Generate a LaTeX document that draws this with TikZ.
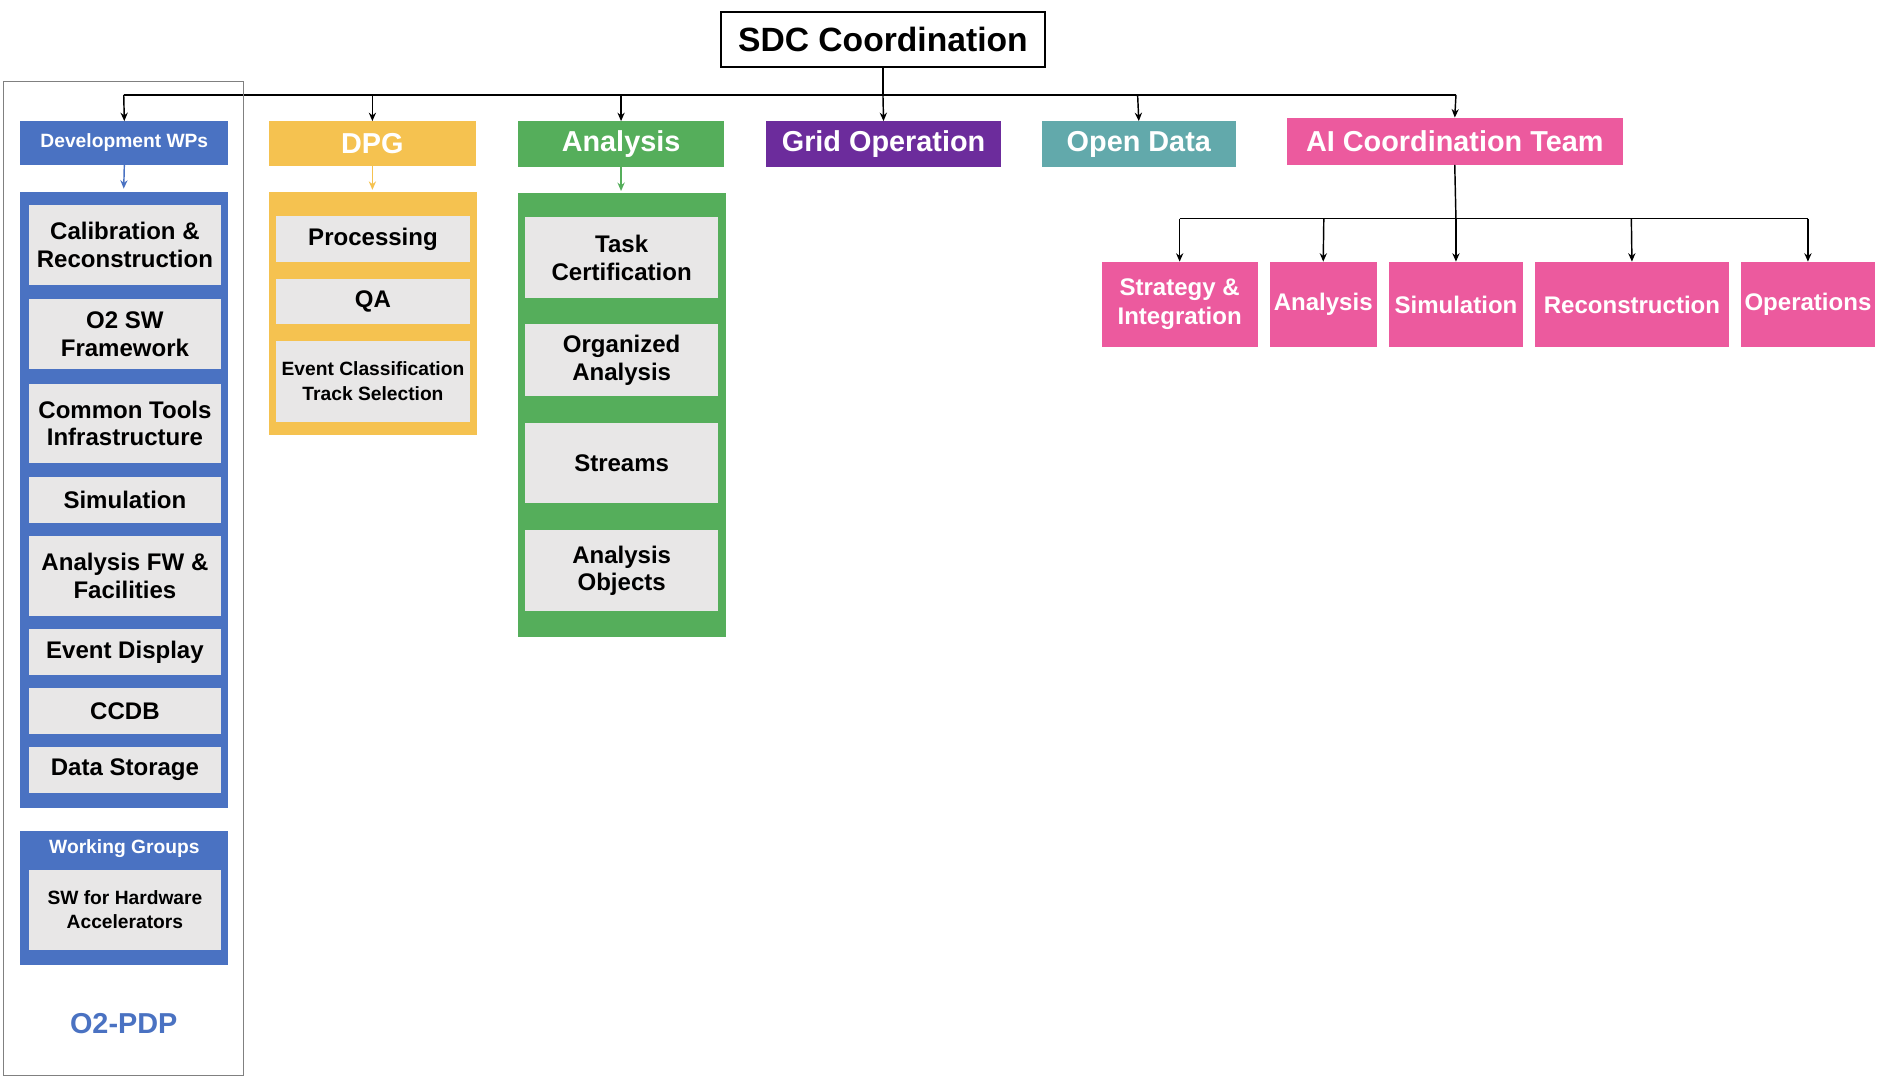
\documentclass[tikz,border=0pt]{standalone}
\usepackage{fontspec}
\setmainfont{Liberation Sans}
\usetikzlibrary{positioning,arrows.meta}
\definecolor{wpblue}{HTML}{4A72C2}
\definecolor{dpgyel}{HTML}{F5C250}
\definecolor{anagreen}{HTML}{55AE5B}
\definecolor{gridpurple}{HTML}{6C2C9C}
\definecolor{odteal}{HTML}{62A9AB}
\definecolor{aipink}{HTML}{EC5A9E}
\definecolor{itemgray}{HTML}{E8E7E7}
\tikzset{
  box/.style={rectangle, inner sep=0pt, align=center, font=\bfseries\fontsize{20}{23}\selectfont},
  head/.style={box, text=white, font=\bfseries\fontsize{24}{27}\selectfont},
  item/.style={box, fill=itemgray, text=black},
  arr/.style={-{Stealth[length=7pt,width=6pt]}, line width=1.2pt},
}
\begin{document}
\begin{tikzpicture}[x=1pt,y=-1pt]
  \useasboundingbox (0,0) rectangle (1565,900);
  % top
  \node [box, draw, line width=1.5pt, minimum width=270, minimum height=46, font=\bfseries\fontsize{28}{30}\selectfont] (sdc) at (735,33) {SDC Coordination};
  \coordinate (bus) at (735,79);
  \coordinate (busl) at (103,79);
  \coordinate (busr) at (1212,79);
  \draw [line width=1.2pt] (sdc.south) -- (bus);
  \draw [line width=1.2pt] (busl) -- (busr);
  % O2-PDP frame
  \draw [gray, line width=0.8pt] (3,68) rectangle (203,895);
  \node [head, fill=wpblue, minimum width=173, minimum height=36, font=\bfseries\fontsize{16}{18}\selectfont] (dev) at (103.5,119) {Development WPs};
  \fill [wpblue] (17,160) rectangle (190,673);
  \node [item, minimum width=160, minimum height=66] (calib) at (104,204) {Calibration \&\\Reconstruction};
  \node [item, minimum width=160, minimum height=58] (o2sw) at (104,278) {O2 SW\\Framework};
  \node [item, minimum width=160, minimum height=65] (tools) at (104,352.5) {Common Tools\\Infrastructure};
  \node [item, minimum width=160, minimum height=38] (sim) at (104,416) {Simulation};
  \node [item, minimum width=160, minimum height=67] (anafw) at (104,479.5) {Analysis FW \&\\Facilities};
  \node [item, minimum width=160, minimum height=38] (evd) at (104,543) {Event Display};
  \node [item, minimum width=160, minimum height=38] (ccdb) at (104,592) {CCDB};
  \node [item, minimum width=160, minimum height=38] (store) at (104,641) {Data Storage};
  \fill [wpblue] (17,692) rectangle (190,803);
  \node [box, text=white, font=\bfseries\fontsize{16}{18}\selectfont] (wg) at (103.5,706) {Working Groups};
  \node [item, minimum width=160, minimum height=67, font=\bfseries\fontsize{16}{20}\selectfont] (swhw) at (104,757.5) {SW for Hardware\\Accelerators};
  \node [box, text=wpblue, font=\bfseries\fontsize{24}{27}\selectfont] (pdp) at (103,852) {O2-PDP};
  \coordinate (devin) at (103,157);
  \draw [arr, wpblue] (dev.south) -- (devin);
  % DPG
  \node [head, fill=dpgyel, minimum width=172, minimum height=37] (dpg) at (310,119.5) {DPG};
  \fill [dpgyel] (224,160) rectangle (397,362);
  \node [item, minimum width=161, minimum height=38] (proc) at (310.5,199) {Processing};
  \node [item, minimum width=161, minimum height=38] (qa) at (310.5,251) {QA};
  \node [item, minimum width=161, minimum height=67, font=\bfseries\fontsize{16}{21}\selectfont] (evcl) at (310.5,317.5) {Event Classification\\Track Selection};
  \coordinate (dpgin) at (310,158);
  \draw [arr, dpgyel] (dpg.south) -- (dpgin);
  % Analysis
  \node [head, fill=anagreen, minimum width=172, minimum height=38] (ana) at (517,120) {Analysis};
  \fill [anagreen] (431,161) rectangle (604,530);
  \node [item, minimum width=161, minimum height=67] (task) at (517.5,214.5) {Task\\Certification};
  \node [item, minimum width=161, minimum height=60] (orga) at (517.5,300) {Organized\\Analysis};
  \node [item, minimum width=161, minimum height=67] (streams) at (517.5,385.5) {Streams};
  \node [item, minimum width=161, minimum height=68] (aobj) at (517.5,475) {Analysis\\Objects};
  \coordinate (anain) at (517,159);
  \draw [arr, anagreen] (ana.south) -- (anain);
  % other top boxes
  \node [head, fill=gridpurple, minimum width=195, minimum height=38] (grid) at (735.5,120) {Grid Operation};
  \node [head, fill=odteal, minimum width=162, minimum height=38] (open) at (948,120) {Open Data};
  \node [head, fill=aipink, minimum width=280, minimum height=39] (ai) at (1211,117.5) {AI Coordination Team};
  \foreach \n/\x in {dev/103,dpg/310,ana/517,grid/735,open/947,ai/1212}
    \draw [arr] (\x,79) -- (\n.north);
  % AI children
  \node [head, fill=aipink, minimum width=130, minimum height=71, font=\bfseries\fontsize{20}{24}\selectfont] (strat) at (982,253.5) {Strategy \&\\Integration};
  \node [head, fill=aipink, minimum width=89, minimum height=71, font=\bfseries\fontsize{20}{24}\selectfont] (aiana) at (1101.5,253.5) {Analysis};
  \node [head, fill=aipink, minimum width=112, minimum height=71, font=\bfseries\fontsize{20}{24}\selectfont] (aisim) at (1212,253.5) {Simulation};
  \node [head, fill=aipink, minimum width=161, minimum height=71, font=\bfseries\fontsize{20}{24}\selectfont] (aireco) at (1358.5,253.5) {Reconstruction};
  \node [head, fill=aipink, minimum width=112, minimum height=71, font=\bfseries\fontsize{20}{24}\selectfont] (aiops) at (1505,253.5) {Operations};
  \coordinate (aibus) at (1212,182);
  \draw [line width=1.2pt] (ai.south) -- (aibus);
  \draw [line width=1.2pt] (982,182) -- (1505,182);
  \foreach \n/\x in {strat/982,aiana/1102,aisim/1212,aireco/1358,aiops/1505}
    \draw [arr] (\x,182) -- (\n.north);
\end{tikzpicture}
\end{document}
